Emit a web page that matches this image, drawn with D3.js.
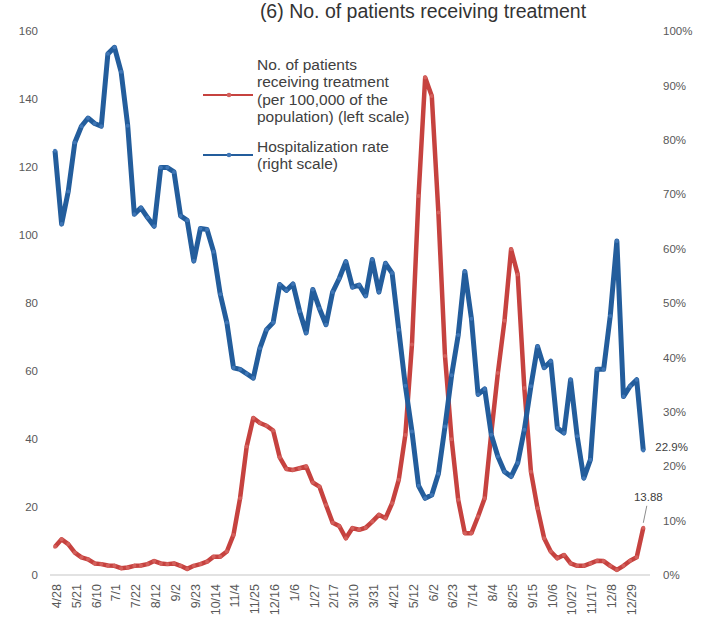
<!DOCTYPE html>
<html>
<head>
<meta charset="utf-8">
<script src="https://cdn.jsdelivr.net/npm/d3@7"></script>
<style>
  body { margin: 0; background: #fff; }
  svg { display: block; font-family: "Liberation Sans", Arial, sans-serif; }
  .tick text { fill: #595959; font-size: 11.5px; }
  .xaxis .tick text { font-size: 12.5px; }
</style>
</head>
<body>
<svg class="chart" width="707" height="627"></svg>
<script>
'use strict'

// weekly points, one x label every third week
const tickLabels = ['4/28', '5/21', '6/10', '7/1', '7/22', '8/12', '9/2', '9/23', '10/14', '11/4',
  '11/25', '12/16', '1/6', '1/27', '2/17', '3/10', '3/31', '4/21', '5/12', '6/2',
  '6/23', '7/14', '8/4', '8/25', '9/15', '10/6', '10/27', '11/17', '12/8', '12/29']

// no. of patients receiving treatment per 100,000 (left scale)
const patients = [8.3, 10.5, 9.1, 6.6, 5.2, 4.6, 3.4, 3.2, 2.8, 2.7,
  2.0, 2.2, 2.7, 2.8, 3.2, 4.1, 3.4, 3.2, 3.4, 2.7,
  1.8, 2.7, 3.2, 3.9, 5.4, 5.4, 6.9, 11.8, 22.6, 37.8,
  46.2, 44.7, 43.9, 42.5, 34.6, 31.2, 30.9, 31.4, 31.9, 27.2,
  26.0, 20.6, 15.4, 14.4, 10.8, 13.8, 13.3, 13.9, 15.7, 17.7,
  16.7, 21.1, 28.0, 41.2, 67.8, 111.5, 146.3, 140.9, 106.6, 64.4,
  39.9, 22.1, 12.3, 12.3, 17.2, 22.6, 41.7, 59.4, 74.8, 95.8,
  88.4, 55.0, 30.4, 19.6, 10.8, 6.9, 4.9, 5.9, 3.4, 2.7,
  2.7, 3.4, 4.2, 4.1, 2.7, 1.5, 2.7, 4.2, 5.2, 13.88]

// hospitalization rate in % (right scale)
const hospRate = [78.0, 64.5, 70.5, 79.5, 82.5, 84.0, 83.0, 82.5, 95.8, 97.0,
  92.5, 82.6, 66.3, 67.5, 65.7, 64.1, 74.9, 74.9, 74.1, 66.0,
  65.2, 57.7, 63.7, 63.5, 59.4, 51.6, 46.4, 38.1, 37.8, 37.0,
  36.2, 41.7, 45.1, 46.4, 53.4, 52.3, 53.5, 48.5, 44.5, 52.5,
  49.0, 46.0, 52.0, 54.5, 57.6, 52.9, 53.3, 51.3, 58.0, 52.0,
  57.3, 55.5, 45.1, 34.8, 26.4, 16.4, 14.1, 14.7, 18.6, 27.3,
  36.7, 44.1, 55.8, 47.1, 33.2, 34.2, 25.8, 21.8, 19.0, 18.1,
  20.6, 26.7, 34.7, 42.0, 38.1, 39.3, 27.0, 26.1, 35.9, 25.5,
  17.8, 21.2, 37.8, 37.8, 47.6, 61.4, 32.8, 34.7, 35.9, 22.9]

const leftTicks = [0, 20, 40, 60, 80, 100, 120, 140, 160]
const rightTicks = [0, 0.1, 0.2, 0.3, 0.4, 0.5, 0.6, 0.7, 0.8, 0.9, 1]

const red = '#c6423f', redDot = '#d4605c',
  blue = '#235d9c', blueDot = '#3f76b6'

const svg = d3.select('.chart')

const x = d3.scalePoint()
    .domain(d3.range(patients.length))
    .range([55, 643.3]),
  yL = d3.scaleLinear().domain([0, 160]).range([575, 31]),
  yR = d3.scaleLinear().domain([0, 1]).range([575, 31])

// title
svg.append('text')
  .attr('x', 423).attr('y', 18)
  .attr('text-anchor', 'middle')
  .style('font-size', '19.5px')
  .attr('fill', '#333')
  .text('(6) No. of patients receiving treatment')

// axes
svg.append('g')
  .attr('transform', 'translate(38,0)')
  .call(d3.axisLeft(yL).tickValues(leftTicks).tickSize(0).tickPadding(0))
  .call(g => g.select('.domain').remove())

svg.append('g')
  .attr('transform', 'translate(663,0)')
  .call(d3.axisRight(yR).tickValues(rightTicks).tickSize(0).tickPadding(0).tickFormat(d3.format('.0%')))
  .call(g => g.select('.domain').remove())

svg.append('line')
  .attr('x1', 50).attr('x2', 650)
  .attr('y1', yL(0)).attr('y2', yL(0))
  .attr('stroke', '#d9d9d9').attr('stroke-width', 1.5)

svg.append('g')
  .attr('class', 'xaxis')
  .attr('transform', 'translate(0,' + yL(0) + ')')
  .call(d3.axisBottom(x)
    .tickValues(tickLabels.map((t, i) => i * 3))
    .tickFormat(i => tickLabels[i / 3])
    .tickSize(0))
  .call(g => g.select('.domain').remove())
  .selectAll('text')
    .attr('transform', 'rotate(-90)')
    .attr('x', -9).attr('y', 1).attr('dy', '0.35em')
    .style('text-anchor', 'end')

// series, red first so blue sits on top
const drawSeries = function(values, yScale, color, dot, width) {
  const line = d3.line()
    .x((d, i) => x(i))
    .y(d => yScale(d))
  svg.append('path')
    .datum(values)
    .attr('d', line)
    .attr('fill', 'none')
    .attr('stroke', color)
    .attr('stroke-width', width)
    .attr('stroke-linejoin', 'round')
  svg.append('g')
    .selectAll('circle')
    .data(values)
    .enter().append('circle')
    .attr('cx', (d, i) => x(i))
    .attr('cy', d => yScale(d))
    .attr('r', 2)
    .attr('fill', dot)
}

drawSeries(patients, yL, red, redDot, 4.5)
drawSeries(hospRate.map(v => v / 100), yR, blue, blueDot, 5)

// end labels
const last = patients.length - 1
svg.append('line')
  .attr('x1', x(last) + 3.5).attr('y1', yL(patients[last]) - 22)
  .attr('x2', x(last)).attr('y2', yL(patients[last]) - 5)
  .attr('stroke', '#8c8c8c').attr('stroke-width', 1)
svg.append('text')
  .attr('x', x(last) + 5).attr('y', yL(patients[last]) - 27)
  .attr('text-anchor', 'middle')
  .attr('fill', '#404040').style('font-size', '11.5px')
  .text(d3.format('.2f')(patients[last]))
svg.append('text')
  .attr('x', x(last) + 12).attr('y', yR(hospRate[last] / 100) + 1)
  .attr('fill', '#404040').style('font-size', '11.5px')
  .text(hospRate[last].toFixed(1) + '%')

// legend
const legend = [
  {color: red, dot: redDot, y: 95, lines: ['No. of patients', 'receiving treatment', '(per 100,000 of the', 'population) (left scale)'], top: 69.5},
  {color: blue, dot: blueDot, y: 155, lines: ['Hospitalization rate', '(right scale)'], top: 151.5}
]
const lg = svg.append('g').selectAll('g').data(legend).enter().append('g')
lg.append('line')
  .attr('x1', 203).attr('x2', 253)
  .attr('y1', d => d.y).attr('y2', d => d.y)
  .attr('stroke', d => d.color).attr('stroke-width', 2.2)
lg.append('circle')
  .attr('cx', 229).attr('cy', d => d.y).attr('r', 2.3)
  .attr('fill', d => d.dot)
lg.each(function(d) {
  d3.select(this).selectAll('text')
    .data(d.lines)
    .enter().append('text')
    .attr('x', 257)
    .attr('y', (t, i) => d.top + i * 17.5)
    .attr('fill', '#404040')
    .style('font-size', '15.5px')
    .text(t => t)
})
</script>
</body>
</html>
